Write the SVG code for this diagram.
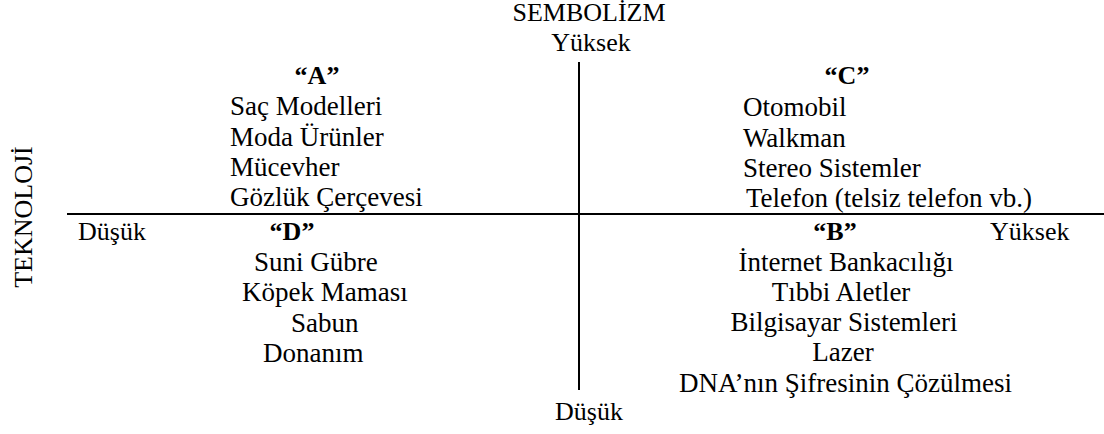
<svg xmlns="http://www.w3.org/2000/svg" width="1104" height="434" viewBox="0 0 1104 434">
<style>
text{font-family:"Liberation Serif","Times New Roman",serif;font-size:26px;fill:#000}
.i{font-size:27px}
.b{font-weight:bold}
.m{text-anchor:middle}
.ax{stroke:#000;stroke-width:2;fill:none}
</style>
<rect width="1104" height="434" fill="#fff"/>
<g id="axes">
<line class="ax" x1="579" y1="62" x2="579" y2="390"/>
<line class="ax" x1="67" y1="214" x2="1104" y2="214"/>
</g>
<g id="axis-labels">
<text class="m" x="589" y="21">SEMBOLİZM</text>
<text class="m" x="591" y="51">Yüksek</text>
<text class="m" x="589" y="420">Düşük</text>
<text x="78" y="240">Düşük</text>
<text x="990" y="240">Yüksek</text>
<text class="m" transform="translate(32,217) rotate(-90)">TEKNOLOJİ</text>
</g>
<g id="quadrant-A">
<text class="b m" x="317" y="84">“A”</text>
<text class="i" x="230" y="115">Saç Modelleri</text>
<text class="i" x="230" y="146">Moda Ürünler</text>
<text class="i" x="230" y="176">Mücevher</text>
<text class="i" x="230" y="206">Gözlük Çerçevesi</text>
</g>
<g id="quadrant-C">
<text class="b m" x="847" y="84">“C”</text>
<text class="i" x="743" y="116">Otomobil</text>
<text class="i" x="743" y="147">Walkman</text>
<text class="i" x="743" y="177">Stereo Sistemler</text>
<text class="i" x="746" y="207">Telefon (telsiz telefon vb.)</text>
</g>
<g id="quadrant-D">
<text class="b m" x="292" y="240">“D”</text>
<text class="i" x="254" y="271">Suni Gübre</text>
<text class="i" x="242" y="301">Köpek Maması</text>
<text class="i" x="291" y="332">Sabun</text>
<text class="i" x="263" y="362">Donanım</text>
</g>
<g id="quadrant-B">
<text class="b m" x="835" y="240">“B”</text>
<text class="i m" x="846" y="271">İnternet Bankacılığı</text>
<text class="i m" x="841" y="301">Tıbbi Aletler</text>
<text class="i m" x="844" y="331">Bilgisayar Sistemleri</text>
<text class="i m" x="843" y="361">Lazer</text>
<text class="i" x="679" y="392">DNA’nın Şifresinin Çözülmesi</text>
</g>
</svg>
